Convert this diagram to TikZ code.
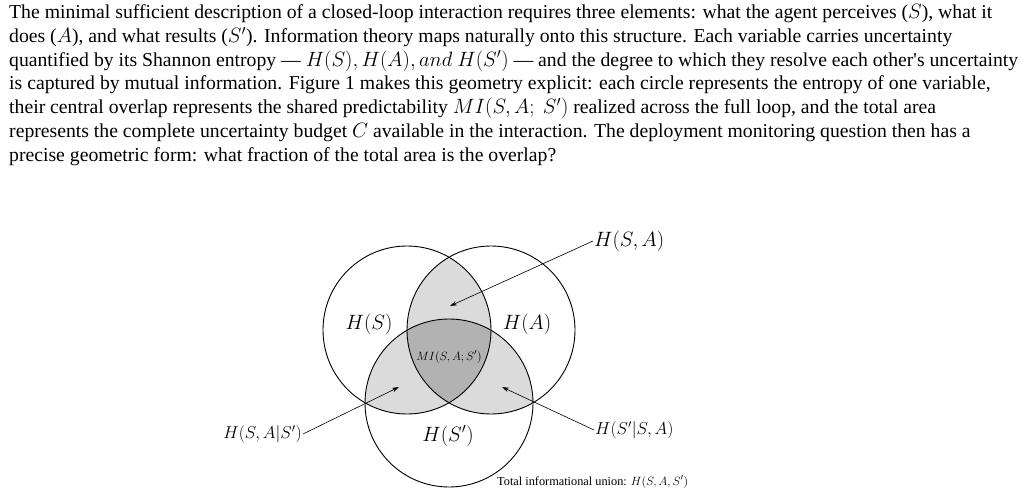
\documentclass[tikz,border=0pt]{standalone}
\usepackage{amsmath}
\usepackage{fontspec}
\setmainfont{Liberation Serif}
\usetikzlibrary{arrows.meta}

\begin{document}
\begin{tikzpicture}[
    x=1pt, y=-1pt,
    % Node styles
    bodytext/.style={anchor=north west, align=left, inner sep=0pt,
        font=\fontsize{19.7}{23.7}\selectfont},
    setlabel/.style={inner sep=1pt, font=\fontsize{20}{24}\selectfont},
    sidelabel/.style={inner sep=1pt, font=\fontsize{18.5}{22}\selectfont},
    corelabel/.style={inner sep=0pt, font=\fontsize{13.2}{15}\selectfont},
    notelabel/.style={anchor=west, inner sep=0pt, font=\fontsize{12.3}{14}\selectfont},
    % Line and fill styles
    ring/.style={draw=black, line width=0.9pt},
    pairfill/.style={fill=black!14},
    corefill/.style={fill=black!30},
    pointer/.style={line width=0.6pt, -{Stealth[length=7pt, width=4.5pt]}}
]

% ==========================================
% MACROS
% ==========================================
\newcommand{\rad}{84pt}
\newcommand{\circS}{(cS) circle[radius=\rad]}
\newcommand{\circA}{(cA) circle[radius=\rad]}
\newcommand{\circT}{(cT) circle[radius=\rad]}

\useasboundingbox (0,0) rectangle (1021,498);
\fill[white] (0,0) rectangle (1021,498);

% ==========================================
% PARAGRAPH
% ==========================================
\node[bodytext] (para) at (9,4.5) {%
The minimal sufficient description of a closed-loop interaction requires three elements: what the agent perceives ($S$), what it\\
does ($A$), and what results ($S'$). Information theory maps naturally onto this structure. Each variable carries uncertainty\\
quantified by its Shannon entropy --- $H(S),H(A),and\ H(S')$ --- and the degree to which they resolve each other\textquotesingle s uncertainty\\
is captured by mutual information. Figure 1 makes this geometry explicit: each circle represents the entropy of one variable,\\
their central overlap represents the shared predictability $MI(S,A;\ S')$ realized across the full loop, and the total area\\
represents the complete uncertainty budget $C$ available in the interaction. The deployment monitoring question then has a\\
precise geometric form: what fraction of the total area is the overlap?};

% ==========================================
% VENN DIAGRAM
% ==========================================
\coordinate (cS) at (407,330);
\coordinate (cA) at (491,330);
\coordinate (cT) at (449,403);

% Pairwise overlaps (light gray)
\begin{scope}
    \clip \circS;
    \fill[pairfill] \circA;
\end{scope}
\begin{scope}
    \clip \circS;
    \fill[pairfill] \circT;
\end{scope}
\begin{scope}
    \clip \circA;
    \fill[pairfill] \circT;
\end{scope}
% Triple overlap (darker gray)
\begin{scope}
    \clip \circS;
    \clip \circA;
    \fill[corefill] \circT;
\end{scope}

\draw[ring] \circS;
\draw[ring] \circA;
\draw[ring] \circT;

% Set labels
\node[setlabel] (hS) at (369,324) {$H(S)$};
\node[setlabel] (hA) at (527,324) {$H(A)$};
\node[setlabel] (hT) at (448,436) {$H(S')$};
\node[corelabel] (mi) at (449,357) {$MI(S,A;S')$};

% ==========================================
% POINTERS
% ==========================================
\coordinate (tipSA) at (450,306);
\coordinate (tipSAgT) at (399,387);
\coordinate (tipTgSA) at (502,387);

\node[sidelabel, anchor=west, font=\fontsize{19.4}{23}\selectfont] (hSA) at (593,241) {$H(S,A)$};
\node[sidelabel, anchor=east] (hSAgT) at (303,434) {$H(S,A|S')$};
\node[sidelabel, anchor=west] (hTgSA) at (594,430) {$H(S'|S,A)$};

\draw[pointer] (hSA.west) -- (tipSA);
\draw[pointer] (hSAgT.east) -- (tipSAgT);
\draw[pointer] (hTgSA.west) -- (tipTgSA);

\node[notelabel] (total) at (497,482) {Total informational union: $H(S,A,S')$};

\end{tikzpicture}
\end{document}
